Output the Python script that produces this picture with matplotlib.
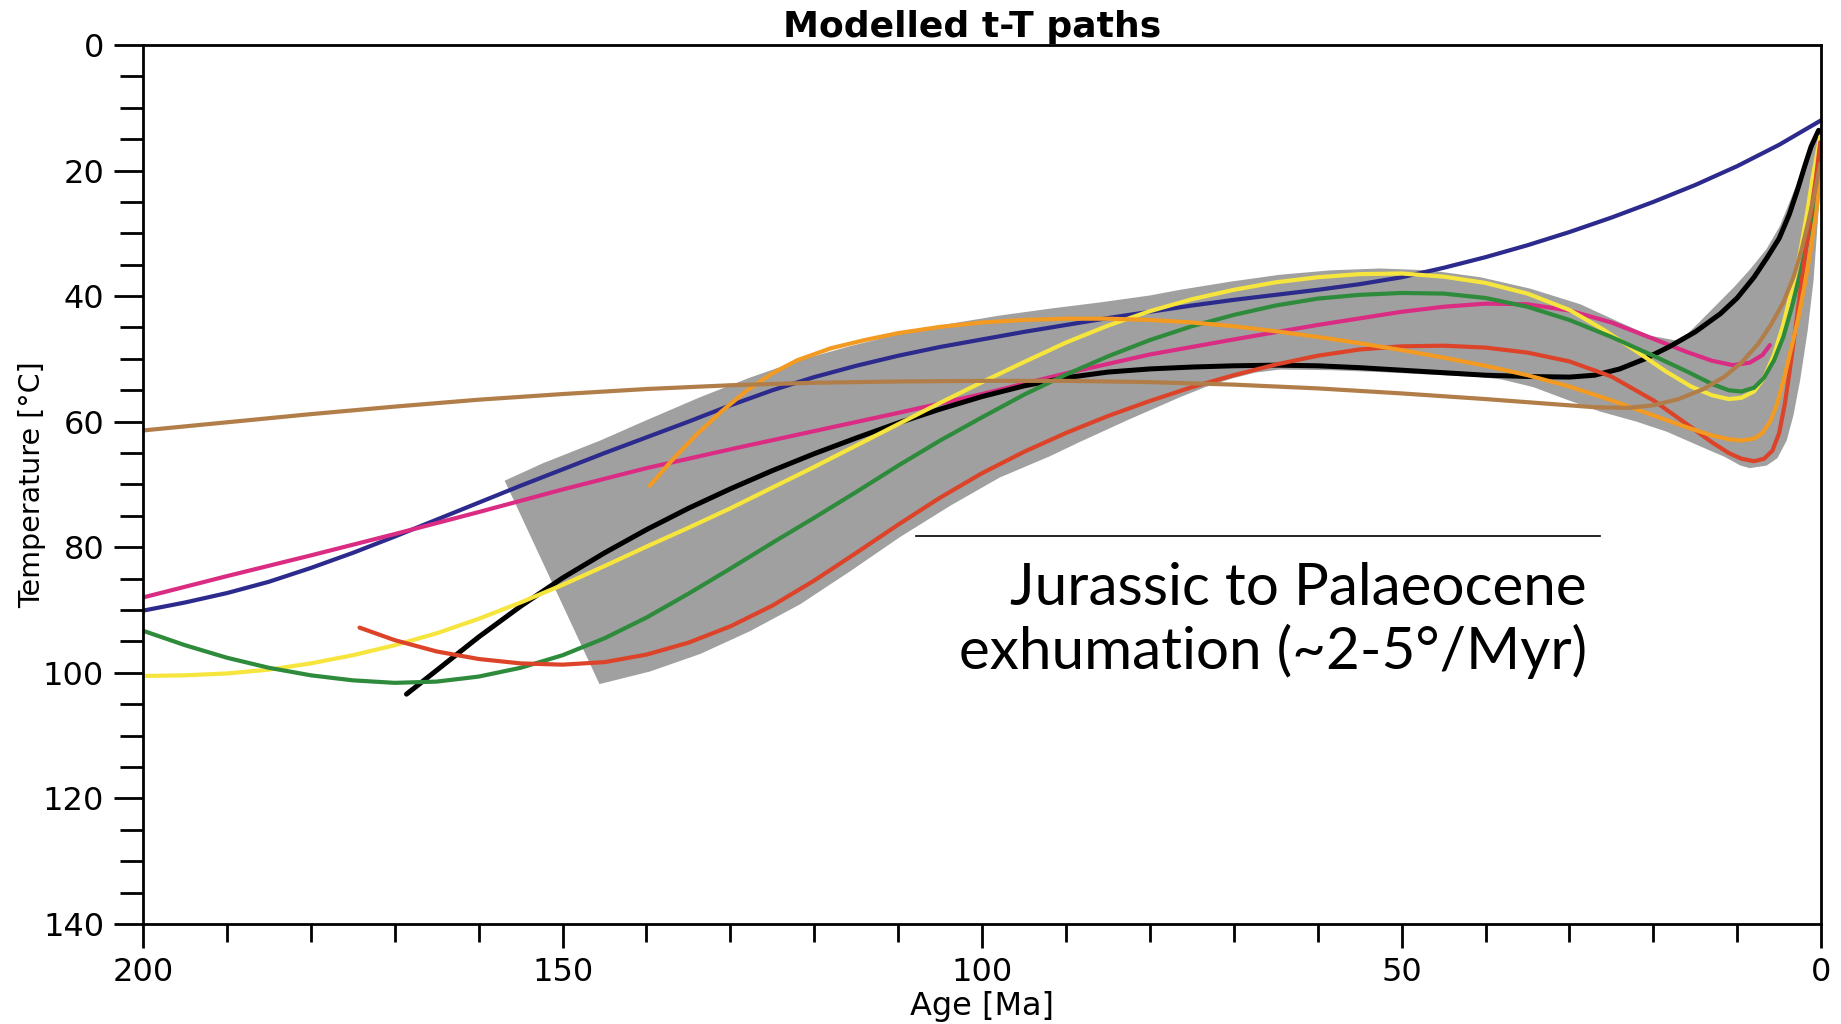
import matplotlib
matplotlib.use("Agg")
import matplotlib.pyplot as plt
from matplotlib.ticker import MultipleLocator

# ---------------- data (age [Ma], temperature [°C]) ----------------
blue_age = [200, 195, 190, 185, 180, 175, 170, 165, 160, 155, 150, 145, 140, 135, 130, 125, 120,
            115, 110, 105, 100, 95, 90, 85, 80, 75, 70, 65, 60, 55, 50, 45, 40, 35, 30, 25, 20,
            15, 10, 5, 0]
blue_T = [90.1, 88.8, 87.3, 85.5, 83.3, 80.9, 78.3, 75.6, 72.9, 70.2, 67.6, 65.0, 62.5, 60.0,
          57.4, 55.0, 52.9, 51.1, 49.5, 48.1, 46.9, 45.7, 44.6, 43.5, 42.5, 41.5, 40.6, 39.8, 39.0,
          38.1, 37.0, 35.5, 33.8, 31.9, 29.8, 27.5, 25.0, 22.3, 19.3, 15.9, 12.0]

pink_age = [200, 190, 180, 170, 160, 150, 140, 130, 120, 110, 100, 90, 80, 70, 60, 50, 45, 40,
            35, 30, 25, 20, 16, 13, 10.5, 8.5, 7, 6.1]
pink_T = [88.0, 84.6, 81.3, 77.9, 74.4, 70.8, 67.4, 64.4, 61.5, 58.6, 55.6, 52.3, 49.3, 46.9,
          44.6, 42.5, 41.7, 41.2, 41.3, 42.3, 44.2, 46.8, 48.9, 50.3, 51.0, 50.6, 49.4, 47.8]

black_age = [168.6, 165, 160, 155, 150, 145, 140, 135, 130, 125, 120, 115, 110, 105, 100, 95,
             90, 85, 80, 75, 70, 65, 60, 55, 50, 45, 40, 35, 30, 27, 24, 21, 18, 15, 12, 10, 8,
             6.5, 5, 3.8, 2.8, 2.0, 1.2, 0.3]
black_T = [103.4, 99.6, 94.3, 89.4, 84.9, 80.9, 77.2, 73.8, 70.7, 67.8, 65.1, 62.6, 60.2, 58.0,
           56.0, 54.3, 53.0, 52.1, 51.6, 51.3, 51.1, 51.0, 51.1, 51.4, 51.8, 52.2, 52.6, 52.8,
           52.9, 52.6, 51.6, 50.0, 48.0, 45.7, 42.8, 40.3, 37.0, 34.0, 30.8, 27.0, 23.0, 19.5,
           16.2, 13.6]

yellow_age = [200, 195, 190, 185, 180, 175, 170, 165, 160, 155, 150, 145, 140, 135, 130, 125,
              120, 115, 110, 105, 100, 95, 90, 85, 80, 75, 70, 65, 60, 55, 50, 45, 40, 35, 30,
              26, 22, 18.5, 15.5, 13, 11, 9.5, 8, 6.8, 5.6, 4.5, 3.5, 2.5, 1.7, 1.0, 0.1]
yellow_T = [100.5, 100.4, 100.1, 99.5, 98.5, 97.2, 95.6, 93.7, 91.4, 88.8, 86.0, 83.0, 79.9,
            76.9, 73.8, 70.5, 67.2, 63.8, 60.4, 57.0, 53.7, 50.5, 47.4, 44.7, 42.4, 40.5, 39.0,
            37.8, 37.0, 36.5, 36.4, 36.9, 37.9, 39.6, 42.2, 45.3, 48.8, 52.0, 54.4, 55.8, 56.4,
            56.2, 55.2, 53.0, 49.3, 44.5, 39.0, 33.0, 27.0, 21.0, 14.6]

green_age = [200, 195, 190, 185, 180, 175, 170, 165, 160, 155, 150, 145, 140, 135, 130, 125,
             120, 115, 110, 105, 100, 95, 90, 85, 80, 75, 70, 65, 60, 55, 50, 45, 40, 35, 30,
             25, 20, 16, 13, 11, 9.5, 8, 6.8, 5.6, 4.5, 3.5, 2.5, 1.6, 0.9, 0.4, 0.1]
green_T = [93.3, 95.6, 97.6, 99.2, 100.4, 101.2, 101.6, 101.4, 100.6, 99.2, 97.2, 94.5, 91.2,
           87.4, 83.4, 79.3, 75.3, 71.2, 67.0, 63.0, 59.3, 55.7, 52.5, 49.6, 47.0, 44.8, 43.0,
           41.5, 40.4, 39.8, 39.5, 39.6, 40.3, 41.7, 43.8, 46.5, 49.5, 52.0, 54.0, 55.0, 55.2,
           54.6, 53.0, 50.2, 46.5, 41.8, 36.5, 31.0, 26.5, 21.5, 16.2]

red_age = [174.2, 170, 165, 160, 155, 150, 145, 140, 135, 130, 125, 120, 115, 110, 105, 100,
           95, 90, 85, 80, 75, 70, 65, 60, 55, 50, 45, 40, 35, 30, 25, 20, 16, 13, 11, 9.5, 8,
           6.8, 5.8, 5.0, 4.3, 3.6, 2.8, 2.0, 1.3, 0.6, 0.1]
red_T = [92.8, 94.8, 96.6, 97.8, 98.5, 98.7, 98.3, 97.1, 95.2, 92.6, 89.3, 85.3, 80.9, 76.4,
         72.1, 68.2, 64.8, 61.8, 59.1, 56.7, 54.5, 52.6, 50.9, 49.5, 48.5, 48.0, 47.9, 48.2,
         49.0, 50.4, 52.8, 56.6, 60.4, 63.3, 65.0, 65.9, 66.3, 65.9, 64.6, 61.8, 57.0, 50.5,
         42.5, 34.5, 27.5, 21.0, 15.5]

orange_age = [139.6, 137, 134, 131, 128, 125, 122, 118, 114, 110, 105, 100, 95, 90, 85, 80, 75,
              70, 65, 60, 55, 50, 45, 40, 35, 30, 25, 20, 16, 13, 11, 9.5, 8, 7, 6, 5.2, 4.4,
              3.6, 2.8, 2.0, 1.3, 0.6, 0]
orange_T = [70.2, 66.2, 62.0, 58.3, 55.0, 52.3, 50.2, 48.3, 47.0, 45.9, 44.9, 44.2, 43.8, 43.6,
            43.6, 43.8, 44.2, 44.8, 45.6, 46.5, 47.5, 48.6, 49.8, 51.1, 52.6, 54.4, 56.6, 59.0,
            60.9, 62.2, 62.8, 63.0, 62.7, 61.8, 59.8, 57.0, 53.0, 48.5, 44.0, 38.5, 33.0, 26.9,
            19.5]

brown_age = [200, 190, 180, 170, 160, 150, 140, 130, 120, 110, 100, 90, 80, 70, 60, 50, 40, 32,
             27, 23, 20, 17, 14, 11.5, 9.5, 7.5, 6, 4.5, 3.3, 2.3, 1.5, 0.8, 0.1]
brown_T = [61.4, 60.1, 58.8, 57.6, 56.5, 55.6, 54.8, 54.2, 53.8, 53.6, 53.5, 53.5, 53.7, 54.1,
           54.7, 55.5, 56.4, 57.2, 57.7, 57.8, 57.4, 56.4, 54.8, 52.8, 50.6, 47.6, 44.6, 41.0,
           37.0, 32.5, 28.0, 23.8, 18.9]

# envelope of acceptable paths (grey band)
env_upper_age = [156.9, 152.3, 145.5, 140.4, 133.6, 127.7, 121.7, 115.8, 109.8, 103.8, 97.9,
                 91.9, 85.9, 80, 76.4, 70.4, 64.5, 58.5, 52.6, 46.6, 40.6, 34.7, 28.7, 24.3, 20.4,
                 16.8, 14.4, 12.4, 10.4, 8.5, 6.5, 4.9, 3.3, 2.0, 0.9, 0.0]
env_upper_T = [69.4, 66.6, 63.0, 60.0, 56.1, 53.0, 50.2, 48.0, 46.0, 44.4, 43.1,
               42.0, 41.0, 39.9, 39.0, 37.7, 36.6, 35.9, 35.6, 35.9, 37.0, 38.8, 41.3, 44.0, 46.3,
               47.2, 44.0, 41.3, 38.6, 35.8, 32.5, 28.8, 23.5, 19.0, 14.8, 12.8]
env_lower_age = [0.0, 0.5, 0.9, 1.6, 2.5, 3.3, 4.1, 5.2, 6.5, 8.5, 9.6, 11.5, 13.6, 16, 18.4,
                 22, 26.3, 30.3, 34.3, 38, 40.6, 46.6, 52.6, 58.5, 64.5, 67.5, 70.4, 73.4, 76.4,
                 82.4, 88.3, 91.9, 97.9, 103.8, 109.8, 115.8, 121.7, 127.7, 133.6, 139.6, 145.6]
env_lower_T = [21.0, 30.0, 37.5, 45.5, 53.4, 59.0, 63.0, 65.8, 67.0, 67.4, 67.0, 65.6, 64.4,
               63.0, 61.6, 60.0, 58.4, 56.5, 54.5, 53.3, 52.9, 52.5, 52.1, 51.8, 51.7, 52.2,
               53.2, 54.5, 56.1, 59.6, 63.2, 65.5, 68.9, 73.4, 78.4, 83.9, 89.1, 93.4, 97.0,
               99.8, 101.8]

paths = [
    (blue_age, blue_T, "#2C2A8C"),
    (pink_age, pink_T, "#DB2C84"),
    (black_age, black_T, "#000000"),
    (yellow_age, yellow_T, "#F6E53C"),
    (green_age, green_T, "#2E8B3C"),
    (red_age, red_T, "#DC4329"),
    (orange_age, orange_T, "#F29A22"),
    (brown_age, brown_T, "#B17E4A"),
]

title = "Modelled t-T paths"
xlabel = "Age [Ma]"
ylabel = "Temperature [°C]"
note = "Jurassic to Palaeocene\nexhumation (~2-5°/Myr)"

# ---------------- figure ----------------
fig = plt.figure(figsize=(18.41, 10.24), dpi=100)
ax = fig.add_axes([0.0777, 0.0977, 0.9115, 0.8584])

ax.fill(env_upper_age + env_lower_age, env_upper_T + env_lower_T,
        color="#A0A0A0", lw=0, zorder=1)

for a, t, c in paths:
    lw = 3.6 if c == "#000000" else 3.0
    ax.plot(a, t, color=c, lw=lw, solid_capstyle="round", solid_joinstyle="round", zorder=2)

ax.set_xlim(200, 0)
ax.set_ylim(140, 0)
ax.xaxis.set_major_locator(MultipleLocator(50))
ax.xaxis.set_minor_locator(MultipleLocator(10))
ax.yaxis.set_major_locator(MultipleLocator(20))
ax.yaxis.set_minor_locator(MultipleLocator(5))

for s in ax.spines.values():
    s.set_linewidth(2.0)
ax.tick_params(axis="x", which="major", direction="out", length=17, width=2, labelsize=23, pad=7)
ax.tick_params(axis="x", which="minor", direction="out", length=13, width=2)
ax.tick_params(axis="y", which="major", direction="out", length=21, width=2, labelsize=23, pad=7)
ax.tick_params(axis="y", which="minor", direction="out", length=16.5, width=2)

ax.set_title(title, fontsize=26, fontweight="bold", pad=6, x=0.494)
ax.set_xlabel(xlabel, fontsize=23)
ax.set_ylabel(ylabel, fontsize=20.5)
ax.xaxis.set_label_coords(0.5, -0.076)
ax.yaxis.set_label_coords(-0.058, 0.5)

# annotation
ax.plot([0.4607, 0.8683], [0.4414, 0.4414], transform=ax.transAxes, color="black", lw=1.2, zorder=3)
ax.text(0.8605, 0.290, note, transform=ax.transAxes, ha="right", va="baseline",
        fontsize=42, family=["Lato", "DejaVu Sans"], fontweight="normal",
        linespacing=1.2, color="black", zorder=3)

fig.savefig("out.png", dpi=100)
